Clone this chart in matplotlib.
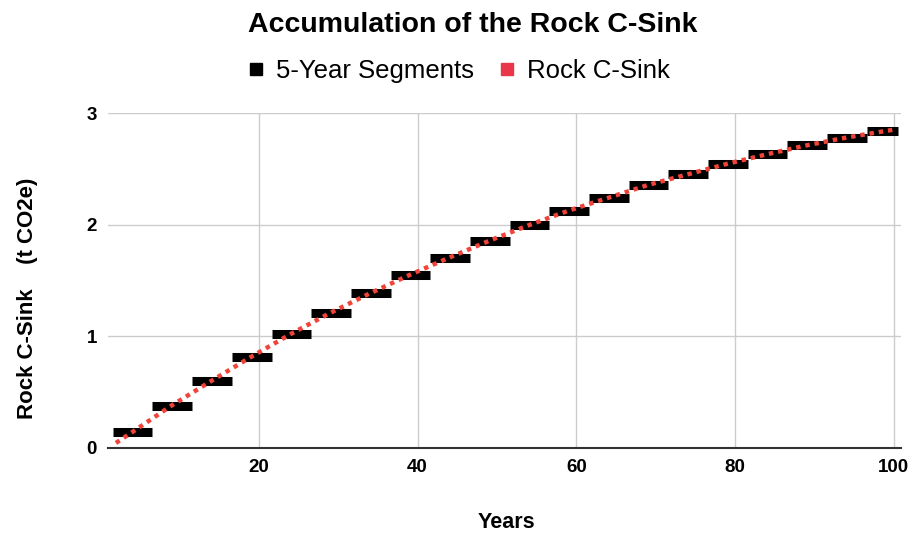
import matplotlib
matplotlib.use('Agg')
import matplotlib.pyplot as plt
from matplotlib.lines import Line2D
import numpy as np

plt.rcParams['font.family'] = ['Liberation Sans', 'DejaVu Sans']

# 5-year segments: start year and accumulated sink (t CO2e)
seg_start = [1.6, 6.6, 11.6, 16.6, 21.6, 26.6, 31.6, 36.6, 41.6, 46.6,
             51.6, 56.6, 61.6, 66.6, 71.6, 76.6, 81.6, 86.6, 91.6, 96.6]
seg_values = [0.14, 0.38, 0.60, 0.815, 1.02, 1.21, 1.385, 1.55, 1.705, 1.855,
              1.995, 2.125, 2.24, 2.355, 2.45, 2.545, 2.63, 2.71, 2.78, 2.84]

# Rock C-Sink curve
sink_years = [2, 4, 9, 14, 19, 24, 29, 34, 39, 44, 49,
              54, 59, 64, 69, 74, 79, 84, 89, 94, 99, 100]
sink_values = [0.045, 0.14, 0.38, 0.60, 0.815, 1.02, 1.21, 1.385, 1.55, 1.705, 1.855,
               1.995, 2.125, 2.24, 2.355, 2.45, 2.545, 2.63, 2.71, 2.78, 2.84, 2.85]

x_ticks = [20, 40, 60, 80, 100]
y_ticks = [0, 1, 2, 3]

RED = '#f0443a'
GRID = '#cccccc'

fig = plt.figure(figsize=(9.12, 5.36), dpi=100)
ax = fig.add_axes([108 / 912, 88 / 536, 793 / 912, 335 / 536])

seg_end = np.minimum(np.array(seg_start) + 5, 100.5)
ax.hlines(seg_values, seg_start, seg_end, colors='black', linewidth=6.5,
          capstyle='butt', zorder=3)
ax.plot(sink_years, sink_values, color=RED, linewidth=3.2,
        linestyle=(0, (1, 1.1)), dash_capstyle='butt', zorder=4)

ax.set_xlim(1, 100.9)
ax.set_ylim(0, 3)
ax.set_xticks(x_ticks)
ax.set_yticks(y_ticks)
ax.tick_params(length=0, labelsize=13.5, pad=8)
for lbl in ax.get_xticklabels() + ax.get_yticklabels():
    lbl.set_fontweight('bold')

ax.grid(True, color=GRID, linewidth=1)
ax.set_axisbelow(True)
for side in ['left', 'right', 'top']:
    ax.spines[side].set_visible(False)
ax.spines['bottom'].set_color('#333333')
ax.spines['bottom'].set_linewidth(1.5)

ax.set_xlabel('Years', fontsize=15.5, fontweight='bold', va='center')
ax.xaxis.set_label_coords((506 - 108) / 793, -(523 - 448) / 335)
ax.set_ylabel('Rock C-Sink    (t CO2e)', fontsize=16, fontweight='bold', va='center')
ax.yaxis.set_label_coords((28 - 108) / 793, (448 - 298) / 335)

fig.text(473 / 912, 1 - 31.7 / 536, 'Accumulation of the Rock C-Sink',
         ha='center', va='baseline', fontsize=20.5, fontweight='bold')

handles = [
    Line2D([], [], marker='s', linestyle='none', color='black', markersize=8),
    Line2D([], [], marker='s', linestyle='none', color='#e8364a', markersize=8),
]
fig.legend(handles, ['5-Year Segments', 'Rock C-Sink'], loc='center',
           bbox_to_anchor=(460 / 912, 1 - 71 / 536), ncol=2, frameon=False,
           fontsize=18.5, handlelength=0.45, handletextpad=0.55, columnspacing=1.05,
           borderpad=0, borderaxespad=0)

fig.savefig('out.png', dpi=100, facecolor='white')
